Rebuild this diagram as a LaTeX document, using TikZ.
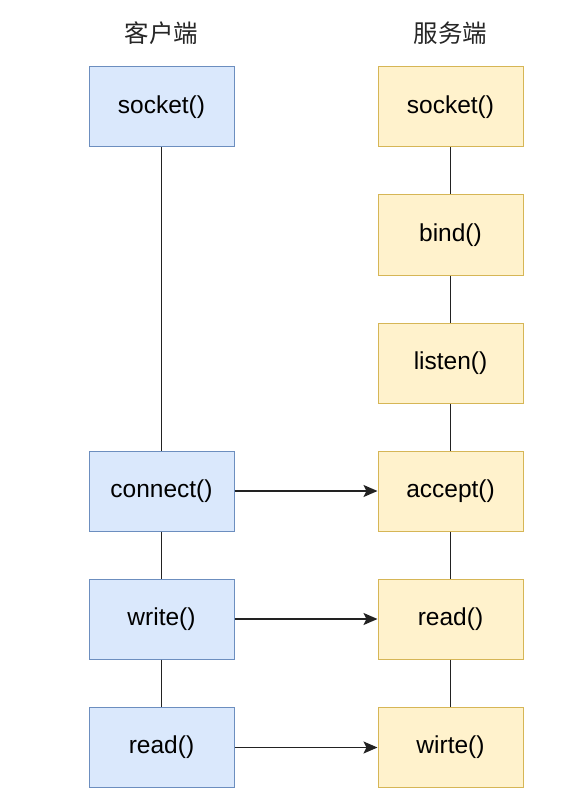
\documentclass[tikz,border=0pt]{standalone}
\usepackage{fontspec}
\setmainfont{Liberation Sans}
\newfontfamily\cjk{Noto Sans CJK SC}
\usetikzlibrary{arrows.meta}
\definecolor{cfill}{HTML}{DAE8FC}
\definecolor{cdraw}{HTML}{6C8EBF}
\definecolor{sfill}{HTML}{FFF2CC}
\definecolor{sdraw}{HTML}{D6B656}
\definecolor{lineclr}{HTML}{222222}
\tikzset{
  boxbase/.style={rectangle, minimum width=145pt, minimum height=80pt, inner sep=0pt, line width=1pt, font=\fontsize{24.5}{28}\selectfont},
  cbox/.style={boxbase, fill=cfill, draw=cdraw},
  sbox/.style={boxbase, fill=sfill, draw=sdraw},
  title/.style={font=\cjk\fontsize{24.5}{28}\selectfont, text=black!85},
  link/.style={draw=lineclr, line width=1.4pt},
  msg/.style={link, -{Stealth[length=14pt,width=12pt,inset=3pt]}}
}
\begin{document}
\begin{tikzpicture}[x=1pt,y=-1pt]
\useasboundingbox (0,0) rectangle (583,802);
\node[title] (t1) at (161.5,33) {客户端};
\node[title] (t2) at (450.5,33) {服务端};
\node[cbox] (c1) at (161.5,107) {socket()};
\node[cbox] (c2) at (161.5,491) {connect()};
\node[cbox] (c3) at (161.5,619) {write()};
\node[cbox] (c4) at (161.5,747.5) {read()};
\node[sbox] (s1) at (450.5,107) {socket()};
\node[sbox] (s2) at (450.5,235) {bind()};
\node[sbox] (s3) at (450.5,363) {listen()};
\node[sbox] (s4) at (450.5,491) {accept()};
\node[sbox] (s5) at (450.5,619) {read()};
\node[sbox] (s6) at (450.5,747.5) {wirte()};
\draw[link] (c1) -- (c2);
\draw[link] (c2) -- (c3);
\draw[link] (c3) -- (c4);
\draw[link] (s1) -- (s2);
\draw[link] (s2) -- (s3);
\draw[link] (s3) -- (s4);
\draw[link] (s4) -- (s5);
\draw[link] (s5) -- (s6);
\draw[msg] (c2) -- (s4);
\draw[msg] (c3) -- (s5);
\draw[msg] (c4) -- (s6);
\end{tikzpicture}
\end{document}
